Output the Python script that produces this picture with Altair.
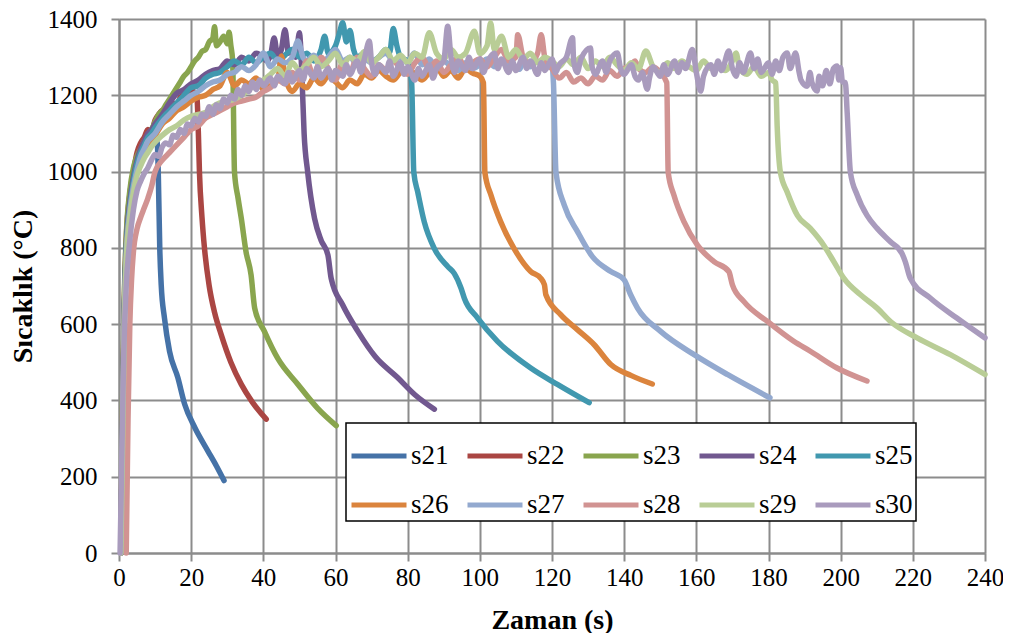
import altair as alt
import pandas as pd

SERIES = ["s21", "s22", "s23", "s24", "s25", "s26", "s27", "s28", "s29", "s30"]
COLORS = ["#4572A7", "#AA4643", "#89A54E", "#71588F", "#4198AF",
          "#DB843D", "#93A9CF", "#D19392", "#B9CD96", "#A99BBD"]
X_TICKS = [0, 20, 40, 60, 80, 100, 120, 140, 160, 180, 200, 220, 240]
Y_TICKS = [0, 200, 400, 600, 800, 1000, 1200, 1400]

s21 = [(0.5, 0), (1, 320), (1.5, 640), (2, 790), (3, 900), (4, 960), (5, 1000), (6, 1030), (7, 1045),
       (8, 1065), (9, 1070), (10, 1085), (10.6, 1075), (10.9, 990), (11.3, 798), (11.7, 703), (12.6, 616),
       (14, 529), (16.3, 460), (18.2, 390), (21, 329), (24.6, 268), (27, 228), (29.1, 190)]

s22 = [(0.5, 0), (1, 360), (1.5, 670), (2, 820), (3, 940), (4, 1000), (5, 1050), (6, 1075), (7, 1090),
       (8, 1110), (9, 1105), (10, 1135), (11, 1150), (12, 1160), (13, 1150), (14, 1175), (15, 1180),
       (16, 1170), (17, 1195), (18, 1200), (19, 1190), (20, 1215), (21, 1205), (21.6, 1195), (22, 1100),
       (22.3, 998), (23, 880), (23.7, 798), (25, 700), (26.5, 630), (28.3, 573), (31, 500), (33.9, 442),
       (37, 395), (40.8, 351)]

s23 = [(0.5, 0), (1, 400), (1.5, 690), (2, 830), (3, 950), (4, 1010), (5, 1040), (6, 1060), (7, 1080),
       (8, 1095), (9, 1110), (10, 1130), (11, 1150), (12, 1160), (13, 1175), (14, 1190), (15, 1205),
       (16, 1220), (17, 1235), (18, 1250), (19, 1260), (20, 1275), (21, 1290), (22, 1300), (23, 1315),
       (24, 1320), (25, 1340), (26, 1350), (26.5, 1380), (27, 1330), (28, 1340), (29, 1355), (30, 1335),
       (30.5, 1365), (31, 1330), (31.5, 1290), (32, 1000), (33, 930), (33.9, 877), (35.2, 790),
       (36.6, 729), (37.6, 642), (40.3, 581), (44, 510), (49.6, 442), (55, 380), (60.2, 334)]

s24 = [(0.5, 0), (1, 340), (1.5, 650), (2, 800), (3, 920), (4, 985), (5, 1030), (6, 1060), (7, 1080),
       (8, 1100), (9, 1110), (10, 1125), (12, 1150), (14, 1180), (16, 1205), (18, 1215), (20, 1230),
       (22, 1240), (24, 1255), (26, 1265), (28, 1270), (30, 1290), (32, 1280), (34, 1300), (36, 1290),
       (38, 1310), (40, 1300), (41, 1290), (42, 1305), (43, 1350), (44, 1300), (45, 1320), (46, 1372),
       (47, 1310), (48, 1320), (49, 1300), (50, 1364), (50.7, 1250), (51.3, 1100), (52.3, 998),
       (54.2, 877), (56, 820), (57.9, 781), (58.8, 720), (62, 650), (66.2, 581), (71, 515), (77.2, 460),
       (82, 415), (87.4, 377)]

s25 = [(0.5, 0), (1, 330), (1.5, 640), (2, 790), (3, 905), (4, 975), (5, 1020), (6, 1050), (7, 1070),
       (8, 1090), (9, 1100), (10, 1115), (12, 1140), (14, 1160), (16, 1180), (18, 1200), (20, 1220),
       (22, 1225), (24, 1245), (26, 1255), (28, 1260), (30, 1275), (32, 1290), (34, 1280), (36, 1300),
       (38, 1285), (40, 1300), (42, 1310), (44, 1290), (46, 1305), (48, 1320), (50, 1300), (52, 1310),
       (54, 1290), (56, 1320), (57, 1355), (58, 1310), (60, 1330), (61, 1360), (62, 1390), (63, 1340),
       (64, 1370), (65, 1320), (66, 1300), (68, 1310), (70, 1290), (72, 1300), (74, 1320), (75, 1312),
       (76, 1375), (77, 1330), (78, 1300), (80, 1290), (81.1, 1233), (81.7, 998), (82.8, 946),
       (84.6, 868), (87.4, 798), (91.1, 751), (92.9, 733), (94.8, 694), (95.7, 668), (99.4, 616),
       (104.9, 555), (114.1, 485), (121.5, 442), (130.3, 394)]

s26 = [(0.5, 0), (1, 300), (1.5, 620), (2, 770), (3, 890), (4, 955), (5, 1000), (6, 1030), (7, 1050),
       (8, 1070), (9, 1085), (10, 1095), (12, 1125), (14, 1140), (16, 1160), (18, 1170), (20, 1185),
       (22, 1195), (24, 1200), (26, 1215), (28, 1225), (30, 1260), (32, 1225), (34, 1240), (36, 1230),
       (38, 1245), (40, 1215), (42, 1225), (44, 1240), (45, 1303), (46, 1250), (48, 1210), (50, 1230),
       (52, 1220), (54, 1245), (56, 1230), (58, 1250), (60, 1235), (62, 1220), (64, 1240), (66, 1230),
       (68, 1255), (70, 1245), (72, 1265), (74, 1250), (76, 1240), (78, 1260), (80, 1270), (82, 1255),
       (84, 1240), (86, 1260), (88, 1275), (90, 1250), (92, 1265), (94, 1245), (96, 1270), (98, 1258),
       (100, 1250), (101, 1233), (101.4, 998), (103.1, 938), (105.8, 868), (109.5, 798), (114.1, 738),
       (116.9, 720), (117.9, 703), (118.3, 677), (122.4, 625), (127.1, 585), (131.7, 546), (136.3, 494),
       (142, 465), (147.8, 443)]

s27 = [(0.5, 0), (1, 310), (1.5, 630), (2, 775), (3, 895), (4, 960), (5, 1005), (6, 1040), (7, 1060),
       (8, 1080), (9, 1090), (10, 1100), (12, 1130), (14, 1150), (16, 1170), (18, 1185), (20, 1200),
       (22, 1210), (24, 1225), (26, 1235), (28, 1240), (30, 1255), (32, 1260), (34, 1275), (36, 1265),
       (38, 1280), (40, 1311), (42, 1275), (44, 1295), (46, 1285), (48, 1300), (49.6, 1342), (51, 1300),
       (52, 1290), (54, 1305), (56, 1280), (58, 1300), (60, 1320), (62, 1290), (64, 1300), (66, 1280),
       (68, 1295), (70, 1285), (72, 1300), (74, 1310), (76, 1290), (78, 1300), (80, 1285), (81.8, 1311),
       (84, 1280), (86, 1295), (88, 1270), (90, 1290), (92, 1275), (94, 1265), (96, 1285), (98, 1270),
       (100, 1280), (102, 1295), (104, 1275), (106, 1290), (108, 1280), (110, 1270), (111, 1268),
       (112, 1285), (114, 1275), (116, 1290), (118, 1280), (120, 1270), (120.4, 1233), (121.1, 998),
       (123.4, 912), (127.1, 842), (131.2, 777), (136.3, 738), (140, 716), (141.8, 677), (143.7, 642),
       (150.1, 581), (159.4, 520), (168.6, 468), (180.4, 407)]

s28 = [(2, 0), (2.5, 350), (3, 600), (3.5, 720), (4, 790), (5, 850), (6, 880), (7, 905), (8, 930),
       (9, 960), (10, 1000), (12, 1030), (14, 1050), (16, 1070), (18, 1090), (20, 1110), (22, 1120),
       (24, 1140), (26, 1150), (28, 1160), (30, 1170), (32, 1180), (34, 1185), (36, 1190), (38, 1195),
       (40, 1210), (42, 1220), (44, 1240), (46, 1230), (48, 1260), (50, 1240), (52, 1290), (54, 1250),
       (56, 1300), (58, 1270), (60, 1240), (62, 1285), (64, 1260), (66, 1300), (68, 1270), (70, 1250),
       (72, 1280), (74, 1265), (76, 1290), (78, 1270), (80, 1255), (82, 1285), (84, 1300), (86, 1270),
       (88, 1290), (90, 1260), (92, 1280), (94, 1300), (96, 1270), (98, 1285), (100, 1295), (102, 1275),
       (104, 1300), (106, 1320), (108, 1290), (110, 1300), (110.5, 1359), (112, 1300), (114, 1285),
       (116, 1310), (117, 1359), (118, 1300), (120, 1270), (122, 1245), (124, 1260), (126, 1235),
       (128, 1245), (130, 1230), (132, 1250), (134, 1240), (136, 1265), (138, 1250), (140, 1270),
       (142, 1280), (143, 1290), (144, 1270), (146, 1260), (148, 1275), (150, 1260), (151.8, 1233),
       (152.2, 998), (153.8, 938), (156.6, 868), (160.3, 807), (164.9, 764), (169, 738), (170, 703),
       (173.2, 659), (179.7, 607), (187, 555), (191.6, 529), (199, 485), (207.3, 451)]

s29 = [(0.5, 0), (1, 290), (1.5, 610), (2, 760), (3, 880), (4, 945), (5, 990), (6, 1015), (7, 1035),
       (8, 1050), (9, 1065), (10, 1077), (12, 1095), (14, 1110), (16, 1120), (18, 1135), (20, 1145),
       (22, 1150), (24, 1155), (26, 1170), (28, 1180), (30, 1185), (32, 1190), (34, 1200), (36, 1215),
       (38, 1230), (40, 1240), (42, 1255), (44, 1270), (46, 1250), (48, 1285), (50, 1265), (52, 1280),
       (54, 1300), (56, 1275), (58, 1290), (60, 1310), (62, 1280), (64, 1300), (66, 1290), (68, 1315),
       (70, 1285), (72, 1300), (74, 1320), (76, 1290), (78, 1305), (80, 1285), (82, 1310), (84, 1300),
       (86, 1364), (88, 1310), (90, 1295), (92, 1320), (94, 1300), (96, 1310), (98.5, 1368), (100, 1310),
       (102, 1330), (103, 1390), (104, 1320), (106, 1355), (108, 1300), (110, 1320), (112, 1295),
       (114, 1310), (116, 1285), (118, 1300), (120, 1290), (122, 1275), (124, 1295), (126, 1280),
       (128, 1300), (130, 1270), (132, 1290), (134, 1275), (136, 1300), (138, 1280), (140, 1265),
       (142, 1285), (144, 1270), (146, 1316), (148, 1275), (150, 1260), (152, 1285), (154, 1270),
       (156, 1290), (158, 1275), (160, 1265), (162, 1290), (164, 1270), (166, 1280), (168, 1265),
       (170, 1290), (171, 1311), (172, 1270), (174, 1255), (176, 1275), (178, 1250), (180, 1260),
       (181, 1240), (182, 1233), (182.4, 1120), (183.3, 998), (185.2, 946), (188, 885), (191.6, 851),
       (195.3, 807), (198.1, 764), (200.9, 720), (205.5, 677), (210.1, 642), (213.8, 607), (221.2, 564),
       (230.4, 520), (240, 468)]

s30 = [(0.3, 0), (0.8, 260), (1.3, 520), (2, 700), (3, 820), (4, 900), (5, 950), (6, 975), (7, 995),
       (8, 1010), (9, 1030), (10, 1045), (11, 1040), (12, 1065), (13, 1075), (14, 1070), (15, 1095),
       (16, 1090), (17, 1110), (18, 1100), (19, 1125), (20, 1120), (21, 1140), (22, 1130), (23, 1150),
       (24, 1145), (25, 1170), (26, 1150), (27, 1175), (28, 1165), (29, 1190), (30, 1180), (31, 1200),
       (32, 1190), (33, 1215), (34, 1200), (35, 1225), (36, 1210), (37, 1235), (38, 1215), (39, 1240),
       (40, 1225), (42, 1245), (43, 1225), (44, 1250), (46, 1230), (47, 1260), (48, 1235), (50, 1265),
       (51, 1240), (52, 1270), (54, 1245), (55, 1275), (56, 1245), (58, 1270), (59, 1240), (60, 1265),
       (62, 1250), (63, 1280), (64, 1255), (66, 1290), (67, 1260), (68, 1295), (69.4, 1342), (70, 1285),
       (71, 1255), (72, 1280), (74, 1260), (75, 1290), (76, 1250), (78, 1285), (79, 1255), (80, 1275),
       (82, 1240), (83, 1270), (84, 1250), (86, 1280), (87, 1245), (88, 1270), (90, 1290), (91.1, 1381),
       (92, 1300), (93, 1260), (94, 1290), (96, 1265), (97, 1300), (98, 1270), (100, 1295), (101, 1260),
       (102, 1285), (104, 1310), (105, 1270), (106, 1295), (108, 1260), (109, 1290), (110, 1265),
       (112, 1300), (113, 1270), (114, 1290), (116, 1255), (117, 1285), (118, 1265), (120, 1295),
       (121, 1260), (122, 1280), (124, 1300), (125.7, 1351), (126, 1290), (127, 1260), (128, 1295),
       (130.7, 1324), (131, 1280), (132, 1255), (134, 1290), (135, 1260), (136, 1290), (138.1, 1311),
       (139, 1270), (140, 1255), (142, 1280), (143, 1250), (144, 1240), (145, 1260), (146.4, 1216),
       (147, 1245), (148, 1275), (150, 1250), (151, 1280), (152, 1255), (154, 1290), (155, 1260),
       (156, 1285), (157, 1270), (158.9, 1320), (160, 1260), (161.2, 1211), (162, 1250), (164, 1280),
       (165, 1255), (166, 1290), (167, 1265), (169, 1316), (170, 1270), (171, 1250), (172, 1285),
       (173, 1260), (175, 1311), (176, 1270), (177, 1295), (178, 1260), (180, 1285), (181, 1255),
       (182, 1290), (183, 1265), (184, 1300), (185.2, 1311), (186, 1270), (187.5, 1311), (188.5, 1260),
       (189, 1240), (190.7, 1224), (191.5, 1260), (192, 1235), (193.5, 1211), (194, 1250), (195, 1225),
       (196, 1265), (197, 1230), (198, 1270), (199, 1277), (199.5, 1240), (200, 1272), (200.5, 1235),
       (201.3, 1233), (201.8, 1155), (202.7, 998), (204.6, 938), (207.3, 885), (210.1, 851), (213.8, 816),
       (217, 785), (217.9, 764), (219.3, 720), (224.9, 668), (232.2, 616), (240, 564)]

ALL = [s21, s22, s23, s24, s25, s26, s27, s28, s29, s30]

rows = []
for name, pts in zip(SERIES, ALL):
    for i, (t, v) in enumerate(pts):
        rows.append({"seri": name, "t": t, "T": v, "i": i})
df = pd.DataFrame(rows)

FONT = "Liberation Serif"
GRID = "#8c8c8c"

chart = alt.Chart(df).mark_line(
    strokeWidth=5.5, strokeJoin="round", strokeCap="round", interpolate="monotone"
).encode(
    x=alt.X("t:Q", scale=alt.Scale(domain=[0, 240], nice=False),
            axis=alt.Axis(values=X_TICKS, title="Zaman (s)", labelPadding=4, titlePadding=16,
                          labelFlush=False, format="d")),
    y=alt.Y("T:Q", scale=alt.Scale(domain=[0, 1400], nice=False),
            axis=alt.Axis(values=Y_TICKS, title="Sıcaklık (°C)", labelPadding=14, titlePadding=10,
                          labelFlush=False, format="d")),
    color=alt.Color("seri:N", scale=alt.Scale(domain=SERIES, range=COLORS),
                    legend=alt.Legend(title=None, orient="none", legendX=227, legendY=404,
                                      direction="horizontal", columns=5, symbolType="stroke",
                                      symbolSize=3025, symbolStrokeWidth=5, labelFont=FONT,
                                      labelFontSize=27, labelColor="black", labelOffset=2,
                                      columnPadding=8, rowPadding=6, padding=3,
                                      strokeColor="black", fillColor="white")),
    order=alt.Order("i:Q"),
).properties(
    width=866, height=534,
    autosize=alt.AutoSizeParams(type="none"),
    padding={"left": 111, "top": 11, "right": 18, "bottom": 80},
).configure_view(
    stroke=None
).configure_axis(
    domainColor=GRID, domainWidth=2, gridColor=GRID, gridWidth=2,
    tickColor=GRID, tickWidth=2, tickSize=8,
    labelFont=FONT, labelFontSize=25, labelColor="black",
    titleFont=FONT, titleFontSize=28, titleFontWeight="bold", titleColor="black",
).configure_legend(
    strokeWidth=1.5
)

chart.save("out.html", embed_options={"renderer": "svg", "actions": False})
